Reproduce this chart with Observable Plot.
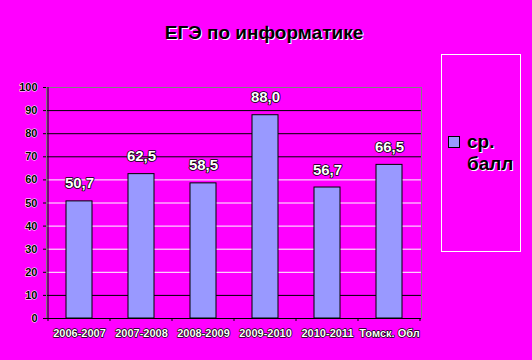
<!DOCTYPE html>
<html><head><meta charset="utf-8">
<script src="https://cdn.jsdelivr.net/npm/d3@7"></script>
<script src="https://cdn.jsdelivr.net/npm/@observablehq/plot@0.6"></script>
<style>
body{margin:0;background:#ff00ff;}
#wrap{position:relative;width:532px;height:360px;background:#ff00ff;font-family:"Liberation Sans",Arial,sans-serif;font-weight:bold;overflow:hidden;}
#title{position:absolute;left:0;width:528px;top:23px;line-height:19px;text-align:center;font-size:19px;color:#000;text-shadow:1px 1px 0 #fff;}
#legend{position:absolute;left:441px;top:54px;width:78px;height:196px;border:1px solid #fff;}
#sw{position:absolute;left:6px;top:81px;width:10px;height:10px;background:#9999ff;border:1px solid #000;}
#lt{position:absolute;left:25px;top:76px;font-size:19px;line-height:22px;color:#000;text-shadow:1px 1px 0 #fff;}
#chart{position:absolute;left:0;top:0;}
</style></head>
<body>
<div id="wrap">
  <div id="chart"></div>
  <div id="title"></div>
  <div id="legend"><div id="sw"></div><div id="lt"></div></div>
</div>
<script>
const titleText = "ЕГЭ по информатике";
const seriesName = ["ср.", "балл"];
const categories = ["2006-2007", "2007-2008", "2008-2009", "2009-2010", "2010-2011", "Томск. Обл"];
const values = [50.7, 62.5, 58.5, 88.0, 56.7, 66.5];
const yTicks = [0, 10, 20, 30, 40, 50, 60, 70, 80, 90, 100];

document.getElementById("title").textContent = titleText;
document.getElementById("lt").innerHTML = seriesName.join("<br>");

const data = categories.map((c, i) => ({cat: c, v: values[i]}));
const fmt = v => v.toFixed(1).replace(".", ",");
const font = '"Liberation Sans", Arial, sans-serif';

const boundaryTicks = (index, scales) => {
  const g = d3.create("svg:g");
  const xs = categories.map(c => scales.x(c));
  const step = xs[1] - xs[0];
  const edges = [...xs, xs[xs.length - 1] + step];
  const y0 = scales.y(0);
  g.append("line").attr("x1", edges[0]).attr("x2", edges[0])
    .attr("y1", scales.y(100)).attr("y2", y0).attr("stroke", "#000");
  for (const e of edges) {
    g.append("line").attr("x1", e).attr("x2", e).attr("y1", y0).attr("y2", y0 + 3)
      .attr("stroke", "#000");
  }
  return g.node();
};

const chart = Plot.plot({
  width: 532,
  height: 360,
  marginTop: 87,
  marginBottom: 42,
  marginLeft: 46,
  marginRight: 111,
  style: {background: "#ff00ff", fontFamily: font, fontWeight: "bold", overflow: "visible"},
  x: {type: "band", domain: categories, padding: 0},
  y: {domain: [0, 100]},
  marks: [
    Plot.ruleY(yTicks.filter(t => t > 0 && t < 100), {
      stroke: d => (d >= 20 && d <= 60) ? "#ffffff" : "#000000", strokeWidth: 1
    }),
    Plot.frame({stroke: "#808080"}),
    Plot.barY(data, {x: "cat", y: "v", fill: "#9999ff", stroke: "#000", strokeWidth: 1, insetLeft: 18, insetRight: 18}),
    Plot.ruleY([0], {stroke: "#000"}),
    boundaryTicks,
    Plot.axisY({ticks: yTicks, tickSize: 3, tickPadding: 6, fontSize: 11, fill: "#000", textStroke: "#fff", textStrokeWidth: 1, label: null, tickFormat: d => d}),
    Plot.axisX({tickSize: 0, tickPadding: 11, fontSize: 11, fill: "#fff", textStroke: "#000", textStrokeWidth: 1.4, label: null}),
    Plot.text(data, {x: "cat", y: "v", text: d => fmt(d.v), lineAnchor: "bottom", dy: -13, fontSize: 15, fontWeight: "bold", fill: "#fff", stroke: "#000", strokeWidth: 1.6})
  ]
});
document.getElementById("chart").appendChild(chart);
</script>
</body></html>
